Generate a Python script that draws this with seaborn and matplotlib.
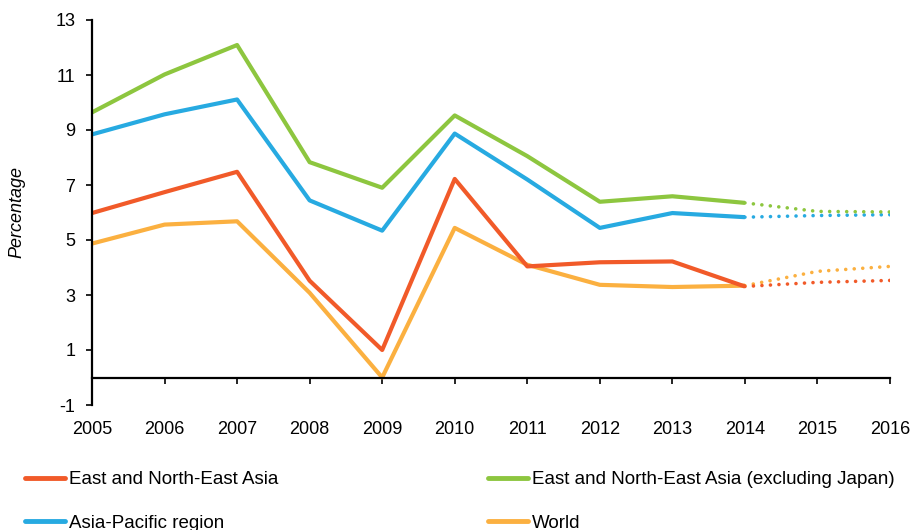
import pandas as pd
import matplotlib.pyplot as plt
from matplotlib.lines import Line2D
import seaborn as sns

# --- DATA ---
YEARS = list(range(2005, 2017))
LAST_ACTUAL = 2014

ENEA = [5.98, 6.74, 7.48, 3.52, 1.00, 7.22, 4.04, 4.19, 4.22, 3.31, 3.46, 3.53]
ENEA_EX_JAPAN = [9.64, 11.02, 12.09, 7.83, 6.90, 9.53, 8.05, 6.39, 6.59, 6.35, 6.04, 6.02]
ASIA_PACIFIC = [8.84, 9.57, 10.11, 6.44, 5.34, 8.87, 7.20, 5.44, 5.98, 5.83, 5.89, 5.92]
WORLD = [4.87, 5.56, 5.68, 3.08, 0.00, 5.44, 4.10, 3.37, 3.29, 3.34, 3.86, 4.04]

SERIES = {
    'East and North-East Asia': ENEA,
    'East and North-East Asia (excluding Japan)': ENEA_EX_JAPAN,
    'Asia-Pacific region': ASIA_PACIFIC,
    'World': WORLD,
}
COLORS = {
    'East and North-East Asia': '#F15A29',
    'East and North-East Asia (excluding Japan)': '#8DC63F',
    'Asia-Pacific region': '#27AAE1',
    'World': '#FBB040',
}

rows = []
for name, vals in SERIES.items():
    for y, v in zip(YEARS, vals):
        rows.append({'Series': name, 'Year': y, 'Value': v})
df = pd.DataFrame(rows)

sns.set_theme(style="white")
plt.rcParams['font.family'] = ['Liberation Sans', 'DejaVu Sans']
plt.rcParams['axes.unicode_minus'] = False
plt.rcParams['text.color'] = 'black'
plt.rcParams['axes.labelcolor'] = 'black'

fig = plt.figure(figsize=(9.13, 5.30), dpi=100)
ax = fig.add_axes([92 / 913, 1 - 405 / 530, 798 / 913, 385 / 530])

# draw order: back to front like the reference
for name in ['World', 'Asia-Pacific region', 'East and North-East Asia (excluding Japan)',
             'East and North-East Asia']:
    d = df[df['Series'] == name]
    actual = d[d['Year'] <= LAST_ACTUAL]
    fcast = d[d['Year'] >= LAST_ACTUAL]
    sns.lineplot(data=actual, x='Year', y='Value', color=COLORS[name], linewidth=3,
                 errorbar=None, ax=ax, legend=False, solid_capstyle='butt')
    sns.lineplot(data=fcast, x='Year', y='Value', color=COLORS[name], linewidth=2.6,
                 errorbar=None, ax=ax, legend=False,
                 linestyle=(0, (0.01, 2.35)), dash_capstyle='round')

ax.set_xlim(2005, 2016)
ax.set_ylim(-1, 13)
ax.set_yticks(range(-1, 14, 2))
ax.set_xticks(YEARS)
ax.set_xlabel('')
ax.set_ylabel('Percentage', fontsize=13, fontstyle='italic', color='black')
ax.yaxis.set_label_coords(-0.083, 0.5)

for s in ['top', 'right']:
    ax.spines[s].set_visible(False)
for s in ['left', 'bottom']:
    ax.spines[s].set_color('black')
    ax.spines[s].set_linewidth(1.6)
ax.spines['bottom'].set_position(('data', 0))

ax.tick_params(axis='y', direction='out', length=4, width=1.2, color='black',
               labelcolor='black', labelsize=13, pad=8, left=True)
ax.tick_params(axis='x', direction='out', length=4, width=1.2, color='black',
               labelcolor='black', labelsize=13, pad=27, bottom=True)
ax.grid(False)

# legend: two separate columns below the plot
left_names = ['East and North-East Asia', 'Asia-Pacific region']
right_names = ['East and North-East Asia (excluding Japan)', 'World']
for names, x0 in [(left_names, 25 / 913), (right_names, 488 / 913)]:
    handles = [Line2D([0], [0], color=COLORS[n], linewidth=3.5, solid_capstyle='round') for n in names]
    fig.legend(handles, names, loc='upper left', bbox_to_anchor=(x0, 0.111),
               frameon=False, fontsize=13.5, handlelength=2.15, handletextpad=0.2,
               borderpad=0, borderaxespad=0, labelspacing=1.4, labelcolor='black')

plt.savefig('out.png', dpi=100)
